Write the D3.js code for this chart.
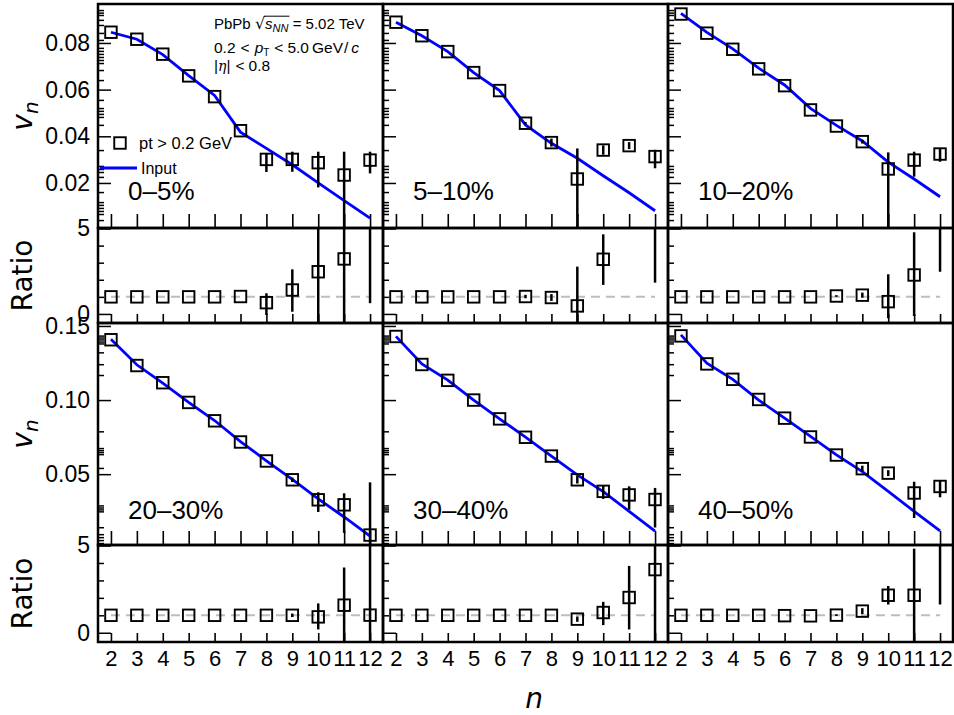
<!DOCTYPE html>
<html><head><meta charset="utf-8">
<script src="https://cdn.jsdelivr.net/npm/d3@7"></script>
<style>body{margin:0;background:#fff} svg{display:block}</style>
</head><body>
<svg id="c" width="954" height="715"></svg>
<script>
// ---------------- DATA ----------------
const harmonics = [2, 3, 4, 5, 6, 7, 8, 9, 10, 11, 12];
const centralityLabels = ["0–5%", "5–10%", "10–20%", "20–30%", "30–40%", "40–50%"];
const vnTicksTop = [0.02, 0.04, 0.06, 0.08];
const vnTicksBottom = [0.05, 0.10, 0.15];
const ratioTickLabels = [0, 5];
const ratioMinorTicks = [1, 2, 3, 4];
// minor tick positions on the v_n axes
const vnMinorTop = [0.0941, 0.0930, 0.0920, 0.0899, 0.0877, 0.0843, 0.0813, 0.0779, 0.0766, 0.0753, 0.0740,
  0.0727, 0.0714, 0.0684, 0.0641, 0.0556, 0.0521, 0.0509, 0.0496, 0.0483, 0.0449, 0.0341, 0.0273, 0.0260,
  0.0247, 0.0226, 0.0161, 0.0118, 0.0106, 0.0093, 0.0080, 0.0067, 0.0041];
const vnMinorBottom = [0.1435, 0.1422, 0.1409, 0.1395, 0.1382, 0.1322, 0.1242, 0.1169, 0.0789, 0.0676,
  0.0662, 0.0649, 0.0635, 0.0542, 0.0289, 0.0275, 0.0262, 0.0249, 0.0142, 0.0095, 0.0075, 0.0055, 0.0035];

// 0–5%
const vn0      = [0.0846, 0.0816, 0.0752, 0.0659, 0.0570, 0.0424, 0.0301, 0.0301, 0.0287, 0.0234, 0.0298];
const vn0ErrLo = [0, 0, 0, 0, 0, 0, 0.0054, 0.0053, 0.0106, 0.030, 0.0057];
const vn0ErrHi = [0, 0, 0, 0, 0, 0, 0.0027, 0.0033, 0.0047, 0.0100, 0.0036];
const input0   = [0.0846, 0.0816, 0.0750, 0.0660, 0.0575, 0.0418, 0.0348, 0.0278, 0.0200, 0.0124, 0.0049];
const ratio0      = [1, 1, 1, 1, 1, 1.02, 0.66, 1.40, 2.47, 3.22, 6.0];
const ratio0ErrLo = [0, 0, 0, 0, 0, 0, 0.72, 1.27, 4.0, 4.5, 5.37];
const ratio0ErrHi = [0, 0, 0, 0, 0, 0, 0.55, 1.21, 3.0, 2.5, 1.0];

// 5–10%
const vn1      = [0.0889, 0.0831, 0.0763, 0.0673, 0.0596, 0.0456, 0.0373, 0.0217, 0.0341, 0.0360, 0.0313];
const vn1ErrLo = [0, 0, 0, 0, 0, 0.0005, 0.0017, 0.030, 0.0020, 0.0015, 0.0050];
const vn1ErrHi = [0, 0, 0, 0, 0, 0.0005, 0.0017, 0.0131, 0.0020, 0.0015, 0.0029];
const input1   = [0.0889, 0.0831, 0.0763, 0.0673, 0.0596, 0.0449, 0.0370, 0.0306, 0.0231, 0.0158, 0.0081];
const ratio1      = [1, 1, 1, 1, 1, 1.02, 0.96, 0.47, 3.20, null, 6.0];
const ratio1ErrLo = [0, 0, 0, 0, 0, 0.1, 0.2, 1.5, 1.5, 0, 4.17];
const ratio1ErrHi = [0, 0, 0, 0, 0, 0.1, 0.2, 2.3, 1.46, 0, 1.0];

// 10–20%
const vn2      = [0.0924, 0.0842, 0.0773, 0.0689, 0.0617, 0.0513, 0.0444, 0.0377, 0.0260, 0.0298, 0.0324];
const vn2ErrLo = [0, 0, 0, 0, 0, 0, 0, 0.0008, 0.030, 0.0071, 0.0033];
const vn2ErrHi = [0, 0, 0, 0, 0, 0, 0, 0.0008, 0.0071, 0.0036, 0.0024];
const input2   = [0.0927, 0.0845, 0.0775, 0.0692, 0.0620, 0.0520, 0.0447, 0.0380, 0.0289, 0.0217, 0.0141];
const ratio2      = [1, 1, 1, 1, 1, 1, 1.05, 1.10, 0.72, 2.28, 6.0];
const ratio2ErrLo = [0, 0, 0, 0, 0, 0, 0.05, 0.15, 0.97, 2.4, 3.53];
const ratio2ErrHi = [0, 0, 0, 0, 0, 0, 0.05, 0.15, 1.6, 2.5, 1.0];

// 20–30%
const vn3      = [0.1407, 0.1233, 0.1117, 0.0984, 0.0860, 0.0717, 0.0589, 0.0462, 0.0327, 0.0293, 0.0089];
const vn3ErrLo = [0, 0, 0, 0, 0, 0, 0, 0.0015, 0.0082, 0.0189, 0.030];
const vn3ErrHi = [0, 0, 0, 0, 0, 0, 0, 0.0015, 0.0051, 0.0078, 0.0356];
const input3   = [0.1410, 0.1238, 0.1115, 0.0985, 0.0862, 0.0720, 0.0590, 0.0465, 0.0333, 0.0211, 0.0082];
const ratio3      = [1, 1, 1, 1, 1, 1, 1, 1.0, 0.91, 1.58, 1.01];
const ratio3ErrLo = [0, 0, 0, 0, 0, 0, 0, 0.1, 0.72, 2.5, 5.0];
const ratio3ErrHi = [0, 0, 0, 0, 0, 0, 0, 0.1, 0.77, 2.16, 5.0];

// 30–40%
const vn4      = [0.1429, 0.1240, 0.1133, 0.1000, 0.0873, 0.0749, 0.0622, 0.0462, 0.0384, 0.0360, 0.0329];
const vn4ErrLo = [0, 0, 0, 0, 0, 0, 0, 0.0025, 0.0051, 0.0100, 0.0189];
const vn4ErrHi = [0, 0, 0, 0, 0, 0, 0, 0.0025, 0.0038, 0.0058, 0.0078];
const input4   = [0.1430, 0.1244, 0.1135, 0.1000, 0.0873, 0.0750, 0.0622, 0.0495, 0.0382, 0.0249, 0.0115];
const ratio4      = [1, 1, 1, 1, 1, 1, 1, 0.78, 1.16, 2.02, 3.62];
const ratio4ErrLo = [0, 0, 0, 0, 0, 0, 0, 0.15, 0.72, 1.83, 5.0];
const ratio4ErrHi = [0, 0, 0, 0, 0, 0, 0, 0.15, 0.61, 1.81, 2.0];

// 40–50%
const vn5      = [0.1433, 0.1244, 0.1140, 0.1004, 0.0878, 0.0751, 0.0629, 0.0537, 0.0507, 0.0373, 0.0417];
const vn5ErrLo = [0, 0, 0, 0, 0, 0, 0, 0.0020, 0.0020, 0.0169, 0.0073];
const vn5ErrHi = [0, 0, 0, 0, 0, 0, 0, 0.0020, 0.0020, 0.0076, 0.0042];
const input5   = [0.1440, 0.1249, 0.1140, 0.1000, 0.0878, 0.0755, 0.0630, 0.0517, 0.0384, 0.0249, 0.0117];
const ratio5      = [1, 1, 1, 1, 0.98, 0.97, 1.01, 1.24, 2.15, 2.15, 6.0];
const ratio5ErrLo = [0, 0, 0, 0, 0, 0, 0.05, 0.17, 0.53, 3.0, 4.38];
const ratio5ErrHi = [0, 0, 0, 0, 0, 0, 0.05, 0.17, 0.53, 2.67, 1.0];

// ---------------- LAYOUT ----------------
const panels = [
  {vn: vn0, lo: vn0ErrLo, hi: vn0ErrHi, input: input0, r: ratio0, rlo: ratio0ErrLo, rhi: ratio0ErrHi},
  {vn: vn1, lo: vn1ErrLo, hi: vn1ErrHi, input: input1, r: ratio1, rlo: ratio1ErrLo, rhi: ratio1ErrHi},
  {vn: vn2, lo: vn2ErrLo, hi: vn2ErrHi, input: input2, r: ratio2, rlo: ratio2ErrLo, rhi: ratio2ErrHi},
  {vn: vn3, lo: vn3ErrLo, hi: vn3ErrHi, input: input3, r: ratio3, rlo: ratio3ErrLo, rhi: ratio3ErrHi},
  {vn: vn4, lo: vn4ErrLo, hi: vn4ErrHi, input: input4, r: ratio4, rlo: ratio4ErrLo, rhi: ratio4ErrHi},
  {vn: vn5, lo: vn5ErrLo, hi: vn5ErrHi, input: input5, r: ratio5, rlo: ratio5ErrLo, rhi: ratio5ErrHi}
];

const svg = d3.select("#c");
const PW = 285;
const colX = [98, 383, 668];
const rowDefs = [
  {top: 4, mid: 228, bot: 323, vDomain: [0.0007, 0.0967], ticks: vnTicksTop, minor: vnMinorTop},
  {top: 323, mid: 545, bot: 642, vDomain: [0.0022, 0.152], ticks: vnTicksBottom, minor: vnMinorBottom}
];
const ratioDomain = [-0.53, 5.03];
const TICKFONT = "'Liberation Sans', Arial, Helvetica, sans-serif";
const TITLEFONT = "'DejaVu Sans', sans-serif";
const BLUE = "#0000ff";

const defs = svg.append("defs");
let clipId = 0;
function clip(x, y, w, h) {
  const id = "clip" + (clipId++);
  defs.append("clipPath").attr("id", id).append("rect").attr("x", x).attr("y", y).attr("width", w).attr("height", h);
  return "url(#" + id + ")";
}

function errBars(g, xs, ys, vals, lo, hi) {
  g.selectAll("line.err").data(harmonics.map((n, i) => ({n, v: vals[i], lo: lo[i], hi: hi[i]})).filter(d => d.v !== null && (d.lo > 0 || d.hi > 0)))
    .join("line").attr("class", "err")
    .attr("x1", d => xs(d.n)).attr("x2", d => xs(d.n))
    .attr("y1", d => ys(d.v + d.hi)).attr("y2", d => ys(d.v - d.lo))
    .attr("stroke", "#000").attr("stroke-width", 2.5);
}
function squares(g, xs, ys, vals) {
  const s = 11.5;
  g.selectAll("rect.mk").data(harmonics.map((n, i) => ({n, v: vals[i]})).filter(d => d.v !== null))
    .join("rect").attr("class", "mk")
    .attr("x", d => xs(d.n) - s / 2).attr("y", d => ys(d.v) - s / 2)
    .attr("width", s).attr("height", s)
    .attr("fill", "none").attr("stroke", "#000").attr("stroke-width", 1.9);
}

panels.forEach((p, idx) => {
  const col = idx % 3, row = Math.floor(idx / 3);
  const R = rowDefs[row];
  const x0 = colX[col];
  const xs = d3.scaleLinear().domain([1.5, 12.5]).range([x0, x0 + PW]);
  const ys = d3.scaleLinear().domain(R.vDomain).range([R.mid, R.top]);
  const yr = d3.scaleLinear().domain(ratioDomain).range([R.bot, R.mid]);

  // ---- main panel ----
  const gm = svg.append("g").attr("clip-path", clip(x0, R.top, PW, R.mid - R.top));
  gm.append("path").datum(harmonics.map((n, i) => [n, p.input[i]]))
    .attr("d", d3.line().x(d => xs(d[0])).y(d => ys(d[1])))
    .attr("fill", "none").attr("stroke", BLUE).attr("stroke-width", 2.8);
  errBars(gm, xs, ys, p.vn, p.lo, p.hi);
  squares(gm, xs, ys, p.vn);

  // ---- ratio panel ----
  const gr = svg.append("g").attr("clip-path", clip(x0, R.mid, PW, R.bot - R.mid));
  gr.append("line").attr("x1", xs(2)).attr("x2", xs(12)).attr("y1", yr(1)).attr("y2", yr(1))
    .attr("stroke", "#bdbdbd").attr("stroke-width", 2).attr("stroke-dasharray", "9,6");
  errBars(gr, xs, yr, p.r, p.rlo, p.rhi);
  squares(gr, xs, yr, p.r);

  // ---- axes ----
  const axM = svg.append("g").attr("transform", `translate(0,${R.mid})`)
    .call(d3.axisBottom(xs).tickValues(harmonics).tickSize(-14).tickFormat(""));
  const axR = svg.append("g").attr("transform", `translate(0,${R.bot})`)
    .call(d3.axisBottom(xs).tickValues(harmonics).tickSize(-9).tickPadding(8)
      .tickFormat(row === 1 ? d3.format("d") : ""));
  [axM, axR].forEach(a => { a.select(".domain").remove(); a.selectAll(".tick line").attr("stroke", "#000").attr("stroke-width", 1.6); });
  axR.selectAll("text").attr("font-family", TICKFONT).attr("font-size", 22).attr("fill", "#000");

  const ayMinor = svg.append("g").attr("transform", `translate(${x0},0)`)
    .call(d3.axisLeft(ys).tickValues(R.minor).tickSize(-6).tickFormat(""));
  const ayMajor = svg.append("g").attr("transform", `translate(${x0},0)`)
    .call(d3.axisLeft(ys).tickValues(R.ticks).tickSize(-13).tickPadding(8)
      .tickFormat(col === 0 ? d3.format(".2f") : ""));
  const arMinor = svg.append("g").attr("transform", `translate(${x0},0)`)
    .call(d3.axisLeft(yr).tickValues(ratioMinorTicks).tickSize(-6).tickFormat(""));
  const arMajor = svg.append("g").attr("transform", `translate(${x0},0)`)
    .call(d3.axisLeft(yr).tickValues(ratioTickLabels).tickSize(-13).tickPadding(8)
      .tickFormat(col === 0 ? d3.format("d") : ""));
  [ayMinor, ayMajor, arMinor, arMajor].forEach(a => {
    a.select(".domain").remove();
    a.selectAll(".tick line").attr("stroke", "#000").attr("stroke-width", 1.5);
    a.selectAll("text").attr("font-family", TICKFONT).attr("font-size", 23).attr("fill", "#000");
  });

  // frames
  svg.append("rect").attr("x", x0).attr("y", R.top).attr("width", PW).attr("height", R.mid - R.top)
    .attr("fill", "none").attr("stroke", "#000").attr("stroke-width", 2.5);
  svg.append("rect").attr("x", x0).attr("y", R.mid).attr("width", PW).attr("height", R.bot - R.mid)
    .attr("fill", "none").attr("stroke", "#000").attr("stroke-width", 2.5);

  // centrality label
  svg.append("text").attr("x", x0 + 30).attr("y", R.top + 196)
    .attr("font-family", TICKFONT).attr("font-size", 26).attr("fill", "#000")
    .text(centralityLabels[idx]);

  // axis titles
  if (col === 0) {
    const vt = svg.append("text").attr("transform", `translate(32,${(R.top + R.mid) / 2}) rotate(-90)`)
      .attr("text-anchor", "middle").attr("font-family", TITLEFONT).attr("font-size", 28).attr("fill", "#000");
    vt.append("tspan").attr("font-style", "italic").text("v");
    vt.append("tspan").attr("font-style", "italic").attr("font-size", 20).attr("dy", 6).text("n");
    svg.append("text").attr("transform", `translate(32,${(R.mid + R.bot) / 2}) rotate(-90)`)
      .attr("text-anchor", "middle").attr("font-family", TITLEFONT).attr("font-size", 28).attr("fill", "#000")
      .text("Ratio");
  }
});

// x-axis title
svg.append("text").attr("x", 534).attr("y", 708).attr("text-anchor", "middle")
  .attr("font-family", TITLEFONT).attr("font-style", "italic").attr("font-size", 28).text("n");

// header text
const H = svg.append("g").attr("font-family", TICKFONT).attr("fill", "#000");
const t1 = H.append("text").attr("x", 214).attr("y", 29).attr("font-size", 15);
t1.append("tspan").text("PbPb ");
t1.append("tspan").attr("font-family", "'DejaVu Sans', sans-serif").attr("font-size", 16).text("√");
t1.append("tspan").attr("font-style", "italic").text("s");
t1.append("tspan").attr("font-style", "italic").attr("font-size", 11).attr("dy", 3).text("NN");
t1.append("tspan").attr("dy", -3).text(" = 5.02 TeV");
{
  const node = t1.node();
  const rIdx = "PbPb ".length;
  const ext = node.getExtentOfChar(rIdx);
  const endPos = node.getEndPositionOfChar(rIdx + 3);
  H.append("line").attr("x1", ext.x + ext.width - 1.2).attr("x2", endPos.x + 1)
    .attr("y1", ext.y + 2.2).attr("y2", ext.y + 2.2).attr("stroke", "#000").attr("stroke-width", 1);
}
const t2 = H.append("text").attr("x", 214).attr("y", 53).attr("font-size", 15.5);
t2.append("tspan").text("0.2");
t2.append("tspan").attr("dx", 5).text("<");
t2.append("tspan").attr("dx", 5).attr("font-style", "italic").text("p");
t2.append("tspan").attr("font-size", 10).attr("dy", 2.5).text("T");
t2.append("tspan").attr("dy", -2.5).attr("dx", 5).text("<");
t2.append("tspan").attr("dx", 4).text("5.0");
t2.append("tspan").attr("dx", 3).text("GeV");
t2.append("tspan").attr("dx", 1).text("/");
t2.append("tspan").attr("dx", 3).attr("font-style", "italic").text("c");
const t3 = H.append("text").attr("x", 214).attr("y", 71).attr("font-size", 15.5);
t3.append("tspan").text("|");
t3.append("tspan").attr("font-style", "italic").attr("font-family", "'DejaVu Serif', serif").attr("font-size", 14).text("η");
t3.append("tspan").text("|");
t3.append("tspan").attr("dx", 5).text("<");
t3.append("tspan").attr("dx", 4).text("0.8");

// legend
{
  const lg = svg.append("g");
  lg.append("rect").attr("x", 120 - 5.75).attr("y", 143 - 5.75).attr("width", 11.5).attr("height", 11.5)
    .attr("fill", "none").attr("stroke", "#000").attr("stroke-width", 1.9);
  lg.append("text").attr("x", 139).attr("y", 149).attr("font-family", TICKFONT).attr("font-size", 16.5).text("pt > 0.2 GeV");
  lg.append("line").attr("x1", 100).attr("x2", 137).attr("y1", 168).attr("y2", 168)
    .attr("stroke", BLUE).attr("stroke-width", 2.8);
  lg.append("text").attr("x", 141).attr("y", 174).attr("font-family", TICKFONT).attr("font-size", 16).text("Input");
}
</script>
</body></html>
